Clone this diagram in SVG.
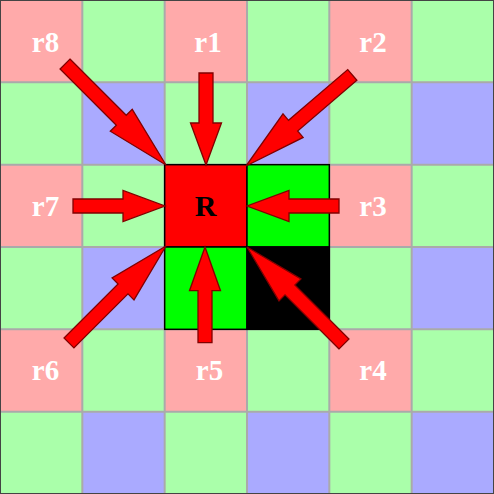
<svg xmlns="http://www.w3.org/2000/svg" xmlns:xlink="http://www.w3.org/1999/xlink" width="494" height="494" viewBox="0 0 494 494">
<style>
.p{fill:#ffaaaa}.g{fill:#aaffaa}.b{fill:#aaaaff}
.lbl{font-family:"Liberation Serif","Times New Roman",serif;font-weight:bold;font-size:29px;fill:#fff;text-anchor:middle}
.R{font-family:"Liberation Serif","Times New Roman",serif;font-weight:bold;font-size:30px;fill:#000;text-anchor:middle}
.arr{fill:#ff0000;stroke:#800000;stroke-width:1.3;stroke-linejoin:miter}
</style>
<defs>
<filter id="soft" x="-10%" y="-10%" width="120%" height="120%"><feGaussianBlur stdDeviation="0.5"/></filter>
<path id="aS" class="arr" d="M-92,-7 L-42,-7 L-42,-15.5 L0,0 L-42,15.5 L-42,7 L-92,7 Z"/>
<path id="aD" class="arr" d="M-140,-7 L-62,-7 L-62,-15.5 L0,0 L-62,15.5 L-62,7 L-140,7 Z"/>
</defs>
<g id="grid">
<rect class="p" x="0" y="0" width="82.33" height="82.33"/><rect class="g" x="82.33" y="0" width="82.33" height="82.33"/><rect class="p" x="164.67" y="0" width="82.33" height="82.33"/><rect class="g" x="247" y="0" width="82.33" height="82.33"/><rect class="p" x="329.33" y="0" width="82.33" height="82.33"/><rect class="g" x="411.67" y="0" width="82.33" height="82.33"/>
<rect class="g" x="0" y="82.33" width="82.33" height="82.33"/><rect class="b" x="82.33" y="82.33" width="82.33" height="82.33"/><rect class="g" x="164.67" y="82.33" width="82.33" height="82.33"/><rect class="b" x="247" y="82.33" width="82.33" height="82.33"/><rect class="g" x="329.33" y="82.33" width="82.33" height="82.33"/><rect class="b" x="411.67" y="82.33" width="82.33" height="82.33"/>
<rect class="p" x="0" y="164.67" width="82.33" height="82.33"/><rect class="g" x="82.33" y="164.67" width="82.33" height="82.33"/><rect class="p" x="164.67" y="164.67" width="82.33" height="82.33"/><rect class="g" x="247" y="164.67" width="82.33" height="82.33"/><rect class="p" x="329.33" y="164.67" width="82.33" height="82.33"/><rect class="g" x="411.67" y="164.67" width="82.33" height="82.33"/>
<rect class="g" x="0" y="247" width="82.33" height="82.33"/><rect class="b" x="82.33" y="247" width="82.33" height="82.33"/><rect class="g" x="164.67" y="247" width="82.33" height="82.33"/><rect class="b" x="247" y="247" width="82.33" height="82.33"/><rect class="g" x="329.33" y="247" width="82.33" height="82.33"/><rect class="b" x="411.67" y="247" width="82.33" height="82.33"/>
<rect class="p" x="0" y="329.33" width="82.33" height="82.33"/><rect class="g" x="82.33" y="329.33" width="82.33" height="82.33"/><rect class="p" x="164.67" y="329.33" width="82.33" height="82.33"/><rect class="g" x="247" y="329.33" width="82.33" height="82.33"/><rect class="p" x="329.33" y="329.33" width="82.33" height="82.33"/><rect class="g" x="411.67" y="329.33" width="82.33" height="82.33"/>
<rect class="g" x="0" y="411.67" width="82.33" height="82.33"/><rect class="b" x="82.33" y="411.67" width="82.33" height="82.33"/><rect class="g" x="164.67" y="411.67" width="82.33" height="82.33"/><rect class="b" x="247" y="411.67" width="82.33" height="82.33"/><rect class="g" x="329.33" y="411.67" width="82.33" height="82.33"/><rect class="b" x="411.67" y="411.67" width="82.33" height="82.33"/>
<path d="M82.33,0V494M164.67,0V494M247,0V494M329.33,0V494M411.67,0V494M0,82.33H494M0,164.67H494M0,247H494M0,329.33H494M0,411.67H494" stroke="#aaaaaa" stroke-width="2" fill="none"/>
<rect x="0.5" y="0.5" width="493" height="493" fill="none" stroke="#444" stroke-width="1"/>
</g>
<g id="center">
<rect x="164.67" y="164.67" width="82.33" height="82.33" fill="#ff0000" stroke="#000" stroke-width="1.5"/>
<rect x="247" y="164.67" width="82.33" height="82.33" fill="#00ff00" stroke="#000" stroke-width="1.5"/>
<rect x="164.67" y="247" width="82.33" height="82.33" fill="#00ff00" stroke="#000" stroke-width="1.5"/>
<rect x="247" y="247" width="82.33" height="82.33" fill="#000" stroke="#000" stroke-width="1.5"/>
<text class="R" x="205.5" y="215.5">R</text>
</g>
<g id="labels">
<text class="lbl" x="45.5" y="52">r8</text>
<text class="lbl" x="208" y="52">r1</text>
<text class="lbl" x="373" y="52">r2</text>
<text class="lbl" x="45.5" y="215.5">r7</text>
<text class="lbl" x="373" y="215.5">r3</text>
<text class="lbl" x="45.5" y="380">r6</text>
<text class="lbl" x="209.5" y="380">r5</text>
<text class="lbl" x="373" y="380">r4</text>
</g>
<g id="connectors" filter="url(#soft)">
<use xlink:href="#aS" transform="translate(206,165) rotate(90)"/>
<use xlink:href="#aS" transform="translate(165,206) rotate(0)"/>
<use xlink:href="#aS" transform="translate(247,206) rotate(180)"/>
<use xlink:href="#aS" transform="translate(205,247) rotate(-90) scale(1.04,1)"/>
<use xlink:href="#aD" transform="translate(166,165) rotate(45) scale(1.02,1)"/>
<use xlink:href="#aD" transform="translate(246,166) rotate(139.4)"/>
<use xlink:href="#aD" transform="translate(247,247) rotate(-135) scale(0.98,1)"/>
<use xlink:href="#aD" transform="translate(166,246) rotate(-45) scale(0.98,1)"/>
</g>
</svg>
